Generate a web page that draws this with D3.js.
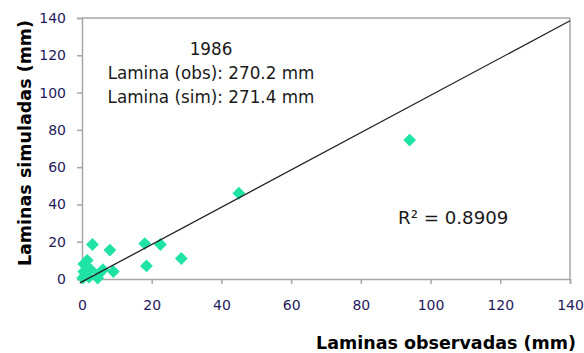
<!DOCTYPE html>
<html>
<head>
<meta charset="utf-8">
<script src="https://cdn.jsdelivr.net/npm/d3@7"></script>
<style>
  html, body { margin: 0; padding: 0; background: #fff; }
  svg { display: block; }
</style>
</head>
<body>
<svg id="chart" width="584" height="353"></svg>
<script>
// Observed vs simulated depths (mm)
const observed  = [0.2, 1.0, 0.5, 1.5, 2.5, 3.0, 4.5, 5.0, 6.0, 8.0, 9.0, 18.0, 18.5, 22.5, 28.5, 45.0, 94.0, 2.0, 0.5];
const simulated = [0.5, 2.5, 8.0, 10.0, 5.0, 18.5, 0.5, 3.0, 5.0, 15.5, 4.0, 19.0, 7.0, 18.5, 11.0, 46.0, 74.5, 1.0, 4.0];
const xTicks = [0, 20, 40, 60, 80, 100, 120, 140];
const yTicks = [0, 20, 40, 60, 80, 100, 120, 140];
// Linear trend line (start, end) and summary
const trendX = [-0.6, 140];
const trendSlope = 1.0, trendIntercept = -1.5;
const annotation = ["1986", "Lamina (obs): 270.2 mm", "Lamina (sim): 271.4 mm"];
const r2Label = "R² = 0.8909";

const svg = d3.select("#chart");
const plotLeft = 82, plotRight = 570, plotTop = 18, plotBottom = 279;

const x = d3.scaleLinear().domain([0, 140]).range([plotLeft, plotRight]);
const y = d3.scaleLinear().domain([0, 140]).range([plotBottom, plotTop]);

const axisColor = "#a6a6a6";
const tickColor = "#1f1a5c";
const font = "DejaVu Sans, Verdana, sans-serif";

// frame: top and right borders
svg.append("line").attr("x1", plotLeft).attr("x2", plotRight).attr("y1", plotTop).attr("y2", plotTop)
  .attr("stroke", axisColor).attr("stroke-width", 1.5);
svg.append("line").attr("x1", plotRight).attr("x2", plotRight).attr("y1", plotTop).attr("y2", plotBottom)
  .attr("stroke", axisColor).attr("stroke-width", 1.5);

// axes
const xAxis = svg.append("g").attr("transform", `translate(0,${plotBottom})`)
  .call(d3.axisBottom(x).tickValues(xTicks).tickSize(5).tickPadding(16));
const yAxis = svg.append("g").attr("transform", `translate(${plotLeft},0)`)
  .call(d3.axisLeft(y).tickValues(yTicks).tickSize(5).tickPadding(11));
[xAxis, yAxis].forEach(g => {
  g.select(".domain").attr("stroke", axisColor).attr("stroke-width", 1.5);
  g.selectAll(".tick line").attr("stroke", axisColor).attr("stroke-width", 1.5);
  g.selectAll(".tick text").attr("fill", tickColor).attr("font-family", font).attr("font-size", 14);
});

// markers
const diamond = d3.symbol().type(d3.symbolDiamond2).size(105);
svg.append("g").selectAll("path")
  .data(observed.map((o, i) => [o, simulated[i]]))
  .join("path")
  .attr("d", diamond)
  .attr("transform", d => `translate(${x(d[0])},${y(d[1])})`)
  .attr("fill", "#1fe3a4");

// trend line
svg.append("line")
  .attr("x1", x(trendX[0])).attr("y1", y(trendSlope * trendX[0] + trendIntercept))
  .attr("x2", x(trendX[1])).attr("y2", y(trendSlope * trendX[1] + trendIntercept))
  .attr("stroke", "#222").attr("stroke-width", 1.3);

// annotation block
svg.append("g").selectAll("text")
  .data(annotation)
  .join("text")
  .attr("x", 211)
  .attr("y", (d, i) => 55 + i * 24)
  .attr("text-anchor", "middle")
  .attr("font-family", font)
  .attr("font-size", 16.8)
  .attr("fill", "#1a1a1a")
  .text(d => d);

svg.append("text")
  .attr("x", 398).attr("y", 224)
  .attr("font-family", font).attr("font-size", 18.2)
  .attr("fill", "#1a1a1a")
  .text(r2Label);

// axis titles
svg.append("text")
  .attr("transform", `translate(31,${143}) rotate(-90)`)
  .attr("text-anchor", "middle")
  .attr("font-family", font).attr("font-size", 17.5).attr("font-weight", "bold")
  .attr("fill", "#000")
  .text("Laminas simuladas (mm)");

svg.append("text")
  .attr("x", 446).attr("y", 349)
  .attr("text-anchor", "middle")
  .attr("font-family", font).attr("font-size", 17.5).attr("font-weight", "bold")
  .attr("fill", "#000")
  .text("Laminas observadas (mm)");
</script>
</body>
</html>
